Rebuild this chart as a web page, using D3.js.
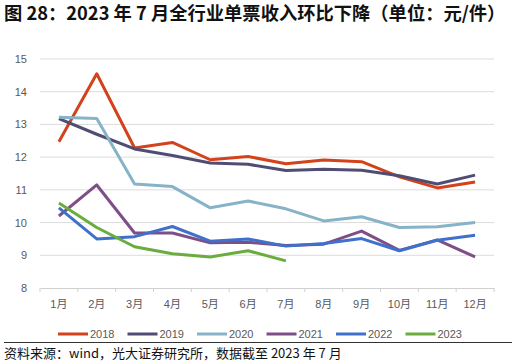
<!DOCTYPE html>
<html>
<head>
<meta charset="utf-8">
<script src="https://cdn.jsdelivr.net/npm/d3@7"></script>
<style>
  body { margin: 0; background: #fff; }
  text { font-family: "Noto Sans CJK SC", "Noto Sans", sans-serif; }
  .num { font-family: "Liberation Sans", "Noto Sans CJK SC", sans-serif; }
</style>
</head>
<body>
<svg id="chart" width="516" height="363"></svg>
<script>
var months = ["1月", "2月", "3月", "4月", "5月", "6月", "7月", "8月", "9月", "10月", "11月", "12月"];
var yTicks = [8, 9, 10, 11, 12, 13, 14, 15];
var years = ["2018", "2019", "2020", "2021", "2022", "2023"];
var colors = ["#d2431c", "#4f4d73", "#86b3c8", "#7e4e87", "#3f70ca", "#6aad3e"];

var v2018 = [12.47, 14.55, 12.28, 12.45, 11.92, 12.02, 11.8, 11.91, 11.86, 11.4, 11.06, 11.24];
var v2019 = [13.18, 12.7, 12.25, 12.05, 11.82, 11.78, 11.59, 11.63, 11.6, 11.43, 11.18, 11.45];
var v2020 = [13.22, 13.18, 11.18, 11.1, 10.45, 10.66, 10.42, 10.05, 10.18, 9.85, 9.87, 10.0];
var v2021 = [10.2, 11.15, 9.68, 9.68, 9.38, 9.4, 9.3, 9.34, 9.74, 9.15, 9.47, 8.95];
var v2022 = [10.45, 9.5, 9.57, 9.88, 9.43, 9.5, 9.28, 9.36, 9.51, 9.14, 9.46, 9.61];
var v2023 = [10.6, 9.85, 9.26, 9.05, 8.95, 9.14, 8.83];
var series = [v2018, v2019, v2020, v2021, v2022, v2023];

var svg = d3.select("#chart");
var plotLeft = 40, plotRight = 494, plotTop = 59, plotBottom = 288;

svg.append("text")
	.attr("x", 4).attr("y", 20)
	.attr("font-size", 18.3).attr("font-weight", "bold").attr("fill", "#111")
	.text("图 28：2023 年 7 月全行业单票收入环比下降（单位：元/件）");

var x = d3.scaleBand().domain(months).range([plotLeft, plotRight]);
var y = d3.scaleLinear().domain([8, 15]).range([plotBottom, plotTop]);

// gridlines
svg.append("g").selectAll("line").data(yTicks.slice(1)).join("line")
	.attr("x1", plotLeft).attr("x2", plotRight)
	.attr("y1", function (d) { return y(d); }).attr("y2", function (d) { return y(d); })
	.attr("stroke", "#dcdcdc").attr("stroke-width", 1);

// y labels
svg.append("g").selectAll("text").data(yTicks).join("text")
	.attr("class", "num")
	.attr("x", 27).attr("y", function (d) { return y(d) + 4; })
	.attr("text-anchor", "end").attr("font-size", 11).attr("fill", "#595959")
	.text(function (d) { return d; });

// x axis
var xAxis = d3.axisBottom(x).tickSize(0).tickPadding(12);
var gx = svg.append("g").attr("transform", "translate(0," + plotBottom + ")").call(xAxis);
gx.select(".domain").attr("stroke", "#d0d0d0");
gx.selectAll("text").attr("class", "num").attr("font-size", 11).attr("fill", "#595959")
	.attr("font-family", null);
var bounds = d3.range(13).map(function (i) { return plotLeft + i * x.step(); });
svg.append("g").selectAll("line").data(bounds).join("line")
	.attr("x1", function (d) { return d; }).attr("x2", function (d) { return d; })
	.attr("y1", plotBottom).attr("y2", plotBottom + 4)
	.attr("stroke", "#d0d0d0");

var line = d3.line()
	.x(function (d, i) { return x(months[i]) + x.bandwidth() / 2; })
	.y(function (d) { return y(d); });

series.forEach(function (s, k) {
	svg.append("path")
		.datum(s)
		.attr("d", line)
		.attr("fill", "none")
		.attr("stroke", colors[k])
		.attr("stroke-width", 3)
		.attr("stroke-linejoin", "round");
});

// legend
var lg = svg.append("g").attr("transform", "translate(58,334)");
years.forEach(function (yr, k) {
	var g = lg.append("g").attr("transform", "translate(" + (k * 69.5) + ",0)");
	g.append("line").attr("x1", 0).attr("x2", 30).attr("y1", 0).attr("y2", 0)
		.attr("stroke", colors[k]).attr("stroke-width", 3);
	g.append("text").attr("class", "num").attr("x", 32).attr("y", 4)
		.attr("font-size", 11).attr("fill", "#595959").text(yr);
});

svg.append("line").attr("x1", 4).attr("x2", 512).attr("y1", 342.5).attr("y2", 342.5)
	.attr("stroke", "#333").attr("stroke-width", 1);

svg.append("text")
	.attr("x", 4).attr("y", 357.5)
	.attr("font-size", 13).attr("fill", "#111")
	.text("资料来源：wind，光大证券研究所，数据截至 2023 年 7 月");
</script>
</body>
</html>
